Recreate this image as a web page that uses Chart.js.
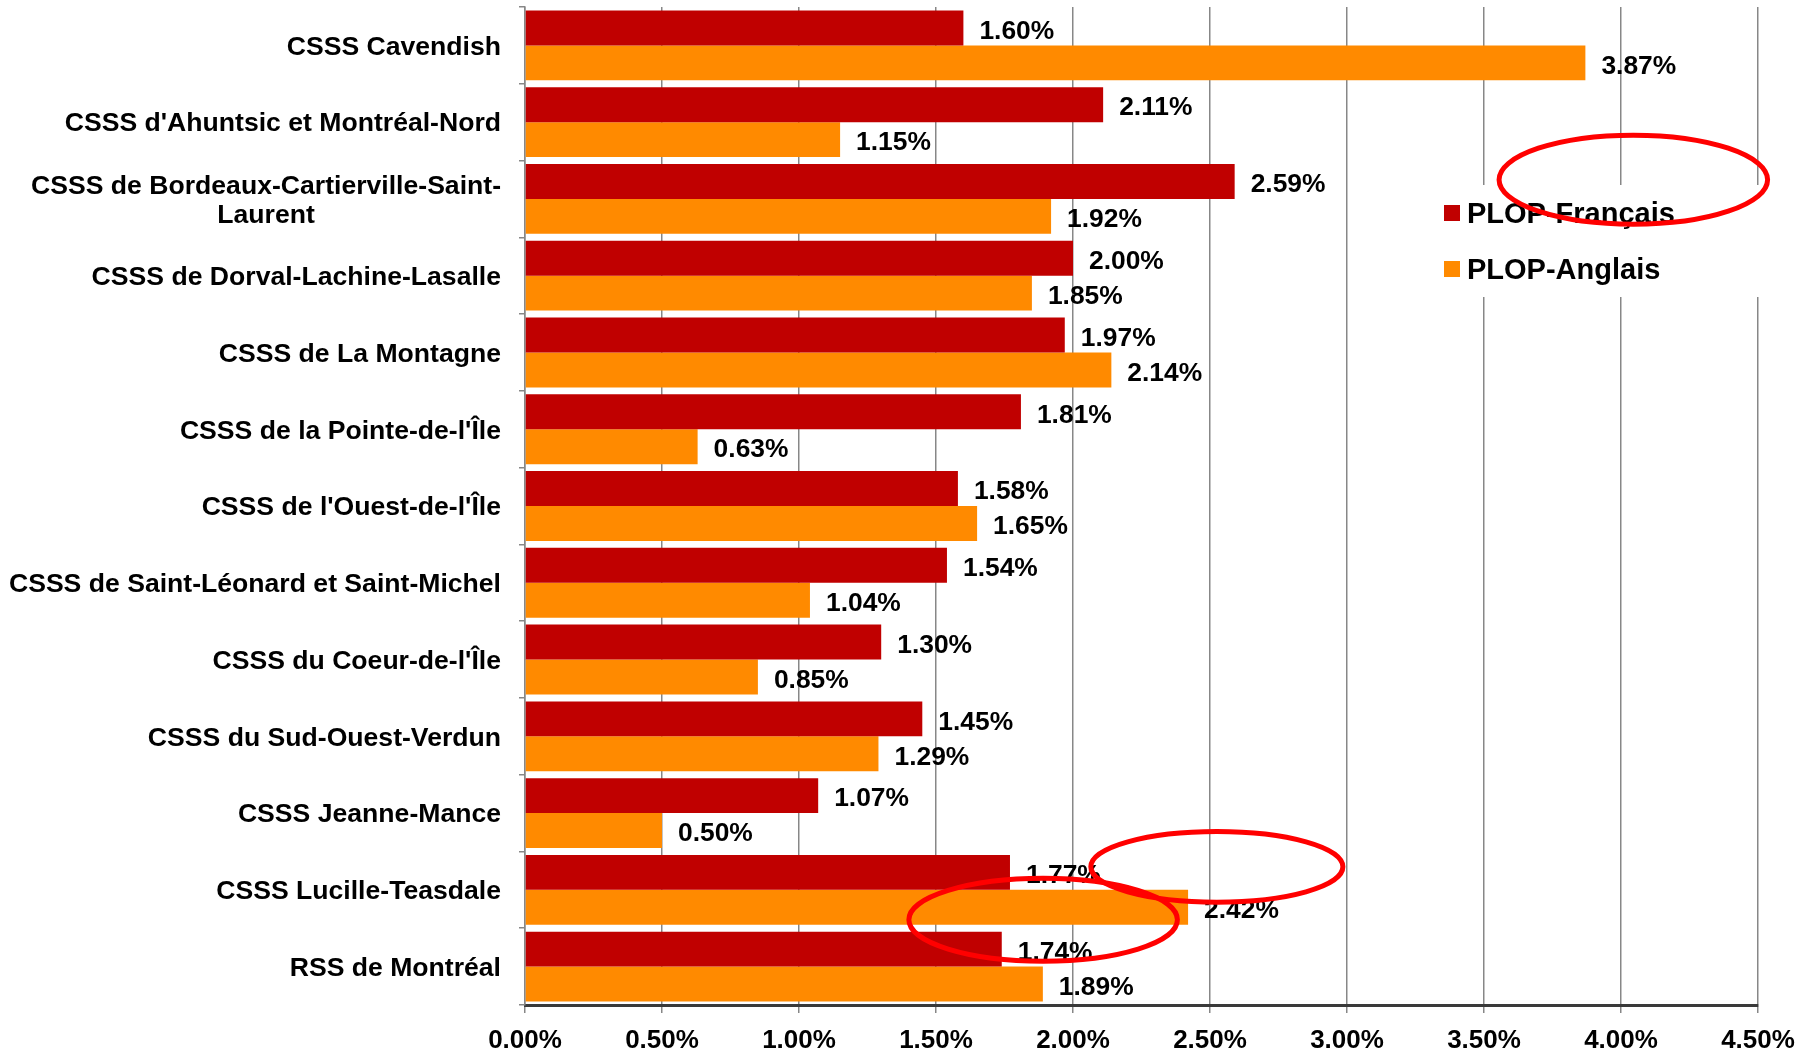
<!DOCTYPE html>
<html>
<head>
<meta charset="utf-8">
<script src="https://cdn.jsdelivr.net/npm/chart.js@4.4.1/dist/chart.umd.min.js"></script>
<style>
	html, body { margin: 0; padding: 0; background: #fff; }
	#wrap { width: 1815px; height: 1054px; position: relative; }
</style>
</head>
<body>
<div id="wrap"><canvas id="plopChart"></canvas></div>
<script>
	'use strict'

	const categories = [
		'CSSS Cavendish',
		"CSSS d'Ahuntsic et Montréal-Nord",
		['CSSS de Bordeaux-Cartierville-Saint-', 'Laurent'],
		'CSSS de Dorval-Lachine-Lasalle',
		'CSSS de La Montagne',
		"CSSS de la Pointe-de-l'Île",
		"CSSS de l'Ouest-de-l'Île",
		'CSSS de Saint-Léonard et Saint-Michel',
		"CSSS du Coeur-de-l'Île",
		'CSSS du Sud-Ouest-Verdun',
		'CSSS Jeanne-Mance',
		'CSSS Lucille-Teasdale',
		'RSS de Montréal'
	];
	const francaisValues = [1.60, 2.11, 2.59, 2.00, 1.97, 1.81, 1.58, 1.54, 1.30, 1.45, 1.07, 1.77, 1.74];
	const anglaisValues = [3.87, 1.15, 1.92, 1.85, 2.14, 0.63, 1.65, 1.04, 0.85, 1.29, 0.50, 2.42, 1.89];
	const seriesNames = ['PLOP-Français', 'PLOP-Anglais'];
	const axisMin = 0;
	const axisMax = 4.5;
	const axisStep = 0.5;

	// hand-drawn red rings, in data units (x = percent, y = category index)
	const ringCenterX = [4.045, 2.525, 1.891];
	const ringCenterY = [1.75, 10.70, 11.39];
	const ringRadiusX = [0.49, 0.46, 0.49];
	const ringRadiusY = [0.58, 0.46, 0.54];

	const FONT = "'Liberation Sans', Arial, Helvetica, sans-serif";
	const percentText = (v) => `${Number(v).toFixed(2)}%`;

	const categoryLabels = {
		id: 'categoryLabels',
		afterDraw(chart) {
			const yScale = chart.scales.y;
			const ctx = chart.ctx;
			const right = chart.chartArea.left - 24;
			const lineHeight = 29;
			ctx.save();
			ctx.font = `bold 26.6px ${FONT}`;
			ctx.fillStyle = '#000';
			ctx.textBaseline = 'middle';
			categories.forEach((label, i) => {
				const lines = Array.isArray(label) ? label : [label];
				const y = yScale.getPixelForValue(i) + 2;
				const widest = Math.max(...lines.map((l) => ctx.measureText(l).width));
				lines.forEach((line, j) => {
					const ly = y + (j - (lines.length - 1) / 2) * lineHeight;
					if (lines.length > 1) {
						ctx.textAlign = 'center';
						ctx.fillText(line, right - widest / 2, ly);
					} else {
						ctx.textAlign = 'right';
						ctx.fillText(line, right, ly);
					}
				});
			});
			ctx.restore();
		}
	};

	const barValueLabels = {
		id: 'barValueLabels',
		afterDatasetsDraw(chart) {
			const ctx = chart.ctx;
			ctx.save();
			ctx.font = `bold 26.4px ${FONT}`;
			ctx.fillStyle = '#000';
			ctx.textAlign = 'left';
			ctx.textBaseline = 'middle';
			chart.data.datasets.forEach((dataset, d) => {
				chart.getDatasetMeta(d).data.forEach((bar, i) => {
					ctx.fillText(percentText(dataset.data[i]), bar.x + 16, bar.y + 3.5);
				});
			});
			ctx.restore();
		}
	};

	const insideLegend = {
		id: 'insideLegend',
		afterDatasetsDraw(chart) {
			const ctx = chart.ctx;
			const area = chart.chartArea;
			const boxLeft = area.right - 322;
			ctx.save();
			ctx.fillStyle = '#fff';
			ctx.fillRect(boxLeft, 185, 332, 112);
			ctx.font = `bold 29px ${FONT}`;
			ctx.textAlign = 'left';
			ctx.textBaseline = 'middle';
			chart.data.datasets.forEach((dataset, d) => {
				const y = 213 + d * 56;
				ctx.fillStyle = dataset.backgroundColor;
				ctx.fillRect(boxLeft + 8, y - 8, 16, 16);
				ctx.fillStyle = '#000';
				ctx.fillText(dataset.label, boxLeft + 31, y + 2);
			});
			ctx.restore();
		}
	};

	const redRings = {
		id: 'redRings',
		afterDatasetsDraw(chart) {
			const xScale = chart.scales.x;
			const yScale = chart.scales.y;
			const ctx = chart.ctx;
			ctx.save();
			ctx.strokeStyle = '#ff0000';
			ctx.lineWidth = 5;
			ringCenterX.forEach((cx, i) => {
				const px = xScale.getPixelForValue(cx);
				const py = yScale.getPixelForValue(ringCenterY[i]);
				const rx = xScale.getPixelForValue(cx + ringRadiusX[i]) - px;
				const ry = yScale.getPixelForValue(ringCenterY[i] + ringRadiusY[i]) - py;
				ctx.beginPath();
				ctx.ellipse(px, py, Math.abs(rx), Math.abs(ry), 0, 0, Math.PI * 2);
				ctx.stroke();
			});
			ctx.restore();
		}
	};

	new Chart(document.getElementById('plopChart'), {
		type: 'bar',
		data: {
			labels: categories,
			datasets: [
				{
					label: seriesNames[0],
					data: francaisValues,
					backgroundColor: '#c00000',
					barPercentage: 1,
					categoryPercentage: 0.91
				},
				{
					label: seriesNames[1],
					data: anglaisValues,
					backgroundColor: '#ff8a00',
					barPercentage: 1,
					categoryPercentage: 0.91
				}
			]
		},
		options: {
			indexAxis: 'y',
			responsive: true,
			maintainAspectRatio: false,
			animation: false,
			layout: {
				padding: { top: 7, right: 57, left: 0, bottom: 0 }
			},
			plugins: {
				legend: { display: false },
				tooltip: { enabled: false }
			},
			scales: {
				x: {
					min: axisMin,
					max: axisMax,
					afterFit: function(scale) {
						scale.height = 49;
					},
					ticks: {
						stepSize: axisStep,
						padding: 12,
						color: '#000',
						font: { family: FONT, size: 26, weight: 'bold' },
						callback: function(value) {
							return percentText(value);
						}
					},
					grid: {
						color: '#878787',
						lineWidth: 1.5,
						tickLength: 8
					},
					border: {
						color: '#3a3a3a',
						width: 3
					}
				},
				y: {
					afterFit: function(scale) {
						scale.width = 525;
					},
					ticks: { display: false },
					grid: {
						drawOnChartArea: false,
						color: '#878787',
						lineWidth: 1.5,
						tickLength: 6
					},
					border: {
						color: '#878787',
						width: 1.5
					}
				}
			}
		},
		plugins: [barValueLabels, insideLegend, redRings, categoryLabels]
	});
</script>
</body>
</html>
